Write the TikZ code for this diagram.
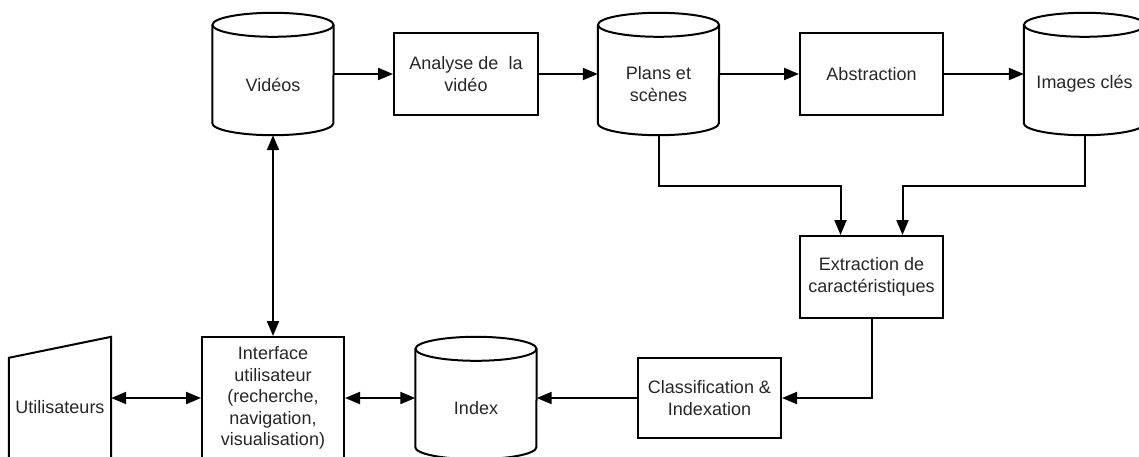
\documentclass[tikz,border=0pt]{standalone}
\usepackage{fontspec}
\setmainfont{Liberation Sans}
\usetikzlibrary{arrows.meta}
\tikzset{
  ln/.style={line width=2pt, draw=black},
  txt/.style={text=black!85, font=\fontsize{18}{21.5}\selectfont, align=center},
  box/.style={rectangle, ln, txt, inner sep=0pt},
  dbase/.style={rectangle, draw=none, inner sep=0pt, minimum width=121pt, minimum height=122pt},
  arr/.style={ln, -{Triangle[length=15pt,width=12pt]}},
  darr/.style={ln, {Triangle[length=15pt,width=12pt]}-{Triangle[length=15pt,width=12pt]}},
}
\newcommand\drawcyl[1]{%
  \draw[ln] ([yshift=-12pt]#1.north) ellipse[x radius=60.5pt, y radius=12pt];
  \draw[ln] ([yshift=-12pt]#1.north west) -- ([yshift=12pt]#1.south west)
    arc[start angle=180, end angle=360, x radius=60.5pt, y radius=12pt]
    -- ([yshift=-12pt]#1.north east);
}
\begin{document}
\begin{tikzpicture}[x=1pt, y=-1pt]
\useasboundingbox (0,0) rectangle (1139,457);
\clip (0,0) rectangle (1139,457);
% top row
\node[dbase, label={[txt, yshift=-11pt]center:Vidéos}] (vid) at (273,74) {};
\node[box, minimum width=144pt, minimum height=82pt] (ana) at (466,74) {Analyse de~ la\\vidéo};
\node[dbase, label={[txt, yshift=-10pt]center:Plans et\\scènes}] (pl) at (658.5,74) {};
\node[box, minimum width=143pt, minimum height=82pt] (abs) at (871.5,74) {Abstraction};
\node[dbase, label={[txt, yshift=-10pt]center:Images clés}] (img) at (1084.5,74) {};
% middle
\node[box, minimum width=143pt, minimum height=82pt] (ext) at (871.5,277) {Extraction de\\caractéristiques};
% bottom row
\node[box, minimum width=143pt, minimum height=80pt] (cls) at (709.5,398) {Classification \&\\Indexation};
\node[dbase, label={[txt, yshift=-10pt]center:Index}] (idx) at (476,398) {};
\node[box, minimum width=142pt, minimum height=122pt] (int) at (273,398) {Interface\\utilisateur\\(recherche,\\navigation,\\visualisation)};
\node[rectangle, draw=none, inner sep=0pt, minimum width=102pt, minimum height=122pt, label={[txt, yshift=-9pt]center:Utilisateurs}] (usr) at (60,398) {};
% shapes
\drawcyl{vid}
\drawcyl{pl}
\drawcyl{img}
\drawcyl{idx}
\draw[ln] ([yshift=-10pt]usr.south west) -- ([yshift=-21pt]usr.north west) -- (usr.north east) -- ([yshift=-10pt]usr.south east);
% connectors
\draw[arr] (vid.east) -- (ana.west);
\draw[arr] (ana.east) -- (pl.west);
\draw[arr] (pl.east) -- (abs.west);
\draw[arr] (abs.east) -- (img.west);
\draw[arr] (pl.south) -- ++(0,51) -| ([xshift=-31pt]ext.north);
\draw[arr] (img.south) -- ++(0,51) -| ([xshift=31pt]ext.north);
\draw[arr] (ext.south) |- (cls.east);
\draw[arr] (cls.west) -- (idx.east);
\draw[darr] (int.east) -- (idx.west);
\draw[darr] (usr.east) -- (int.west);
\draw[darr] (vid.south) -- (int.north);
\end{tikzpicture}
\end{document}
